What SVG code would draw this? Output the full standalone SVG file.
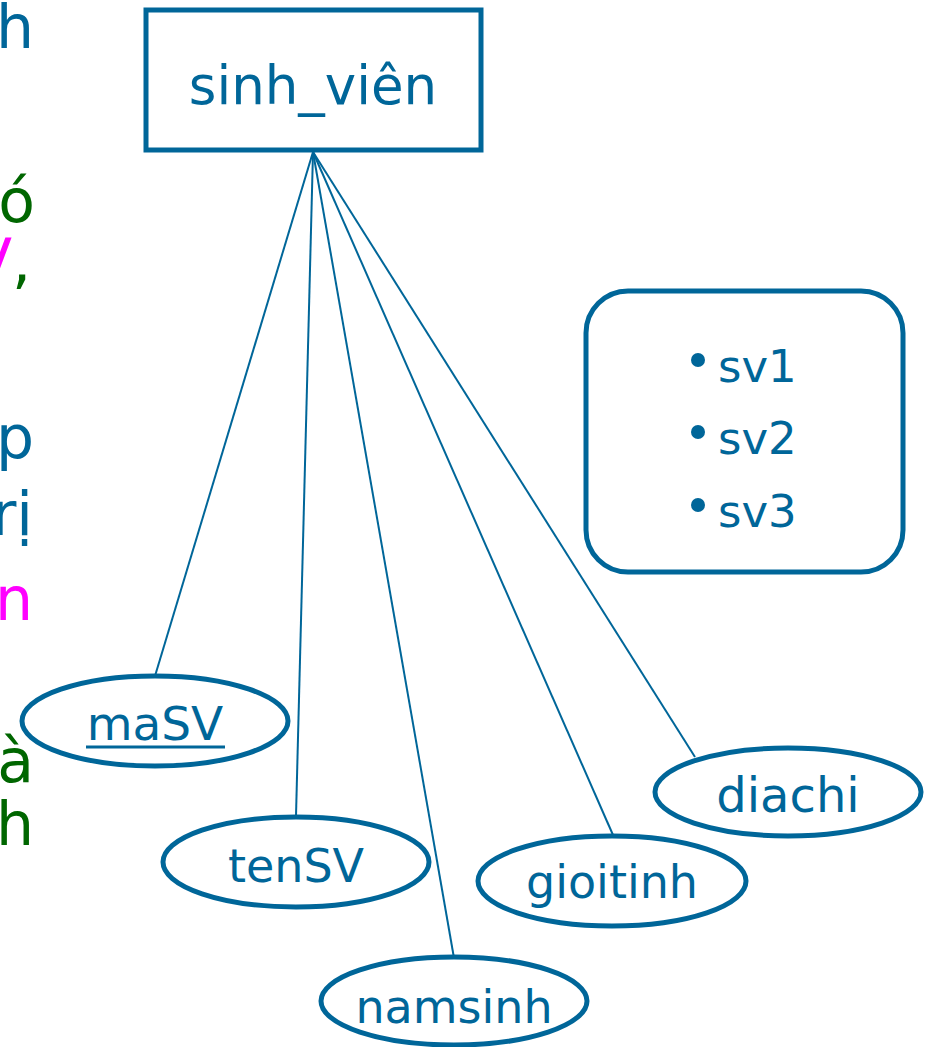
<svg xmlns="http://www.w3.org/2000/svg" width="930" height="1047" viewBox="0 0 930 1047">
<style>
.b{fill:#006699}
.g{fill:#006600}
.m{fill:#FF00FF}
.lt{font-family:"DejaVu Sans",sans-serif;font-size:60px}
.lbl{font-family:"DejaVu Sans",sans-serif;fill:#006699;text-anchor:middle}
.sv{font-family:"DejaVu Sans",sans-serif;font-size:45px;fill:#006699}
.shape{fill:#FFFFFF;stroke:#006699;stroke-width:5}
.conn{stroke:#006699;stroke-width:2;fill:none}
</style>
<rect width="930" height="1047" fill="#FFFFFF"/>
<g id="left-text" class="lt" text-anchor="end">
<text x="34" y="48" class="b">h</text>
<text x="35" y="222" class="g">ó</text>
<text x="31" y="282"><tspan class="m">V</tspan><tspan class="g">,</tspan></text>
<text x="34" y="458" class="b">p</text>
<text x="33" y="535" class="b">rị</text>
<text x="33" y="620" class="m">n</text>
<text x="34" y="782" class="g">à</text>
<text x="34" y="845" class="g">h</text>
</g>
<g id="connectors">
<line class="conn" x1="313" y1="152" x2="155" y2="676"/>
<line class="conn" x1="313" y1="152" x2="296" y2="816"/>
<line class="conn" x1="313" y1="152" x2="454" y2="958"/>
<line class="conn" x1="313" y1="152" x2="613" y2="835"/>
<line class="conn" x1="313" y1="152" x2="695" y2="757"/>
</g>
<g id="sinh_vien">
<rect class="shape" x="146" y="10" width="335" height="140"/>
<text class="lbl" x="313" y="104" font-size="53">sinh_viên</text>
</g>
<g id="instances">
<rect class="shape" x="586" y="291" width="317" height="281" rx="42"/>
<circle class="b" cx="698" cy="360" r="7"/>
<circle class="b" cx="698" cy="432" r="7"/>
<circle class="b" cx="698" cy="505" r="7"/>
<text x="718" y="382" class="sv">sv1</text>
<text x="718" y="454" class="sv">sv2</text>
<text x="718" y="527" class="sv">sv3</text>
</g>
<g id="maSV">
<ellipse class="shape" cx="155" cy="721" rx="133" ry="45"/>
<text class="lbl" x="155" y="740" font-size="47">maSV</text>
<line x1="86" y1="747" x2="225" y2="747" stroke="#006699" stroke-width="3"/>
</g>
<g id="tenSV">
<ellipse class="shape" cx="296" cy="862" rx="133" ry="45"/>
<text class="lbl" x="296" y="882" font-size="46">tenSV</text>
</g>
<g id="namsinh">
<ellipse class="shape" cx="454" cy="1001" rx="133" ry="44"/>
<text class="lbl" x="454" y="1023" font-size="46">namsinh</text>
</g>
<g id="gioitinh">
<ellipse class="shape" cx="612" cy="881" rx="134" ry="45"/>
<text class="lbl" x="612" y="898" font-size="46">gioitinh</text>
</g>
<g id="diachi">
<ellipse class="shape" cx="788" cy="792" rx="133" ry="44"/>
<text class="lbl" x="788" y="812" font-size="48">diachi</text>
</g>
</svg>
